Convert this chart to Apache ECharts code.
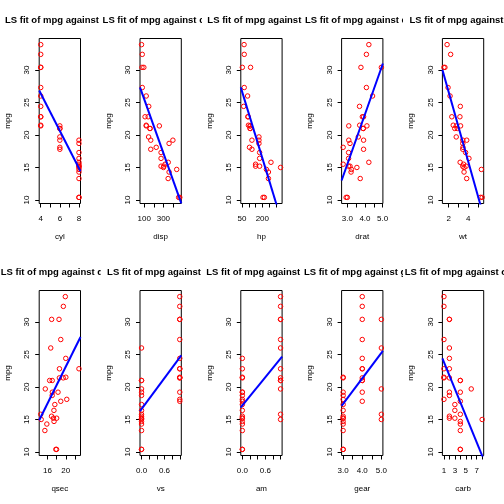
<!DOCTYPE html>
<html>
<head>
<meta charset="utf-8">
<script src="https://cdn.jsdelivr.net/npm/echarts@6/dist/echarts.min.js"></script>
<style>
body{margin:0;background:#fff}
#wrap{position:relative;width:504px;height:504px;overflow:hidden}
.panel{position:absolute}
</style>
</head>
<body>
<div id="wrap"></div>
<script>
// mtcars: mpg against each of the other columns
var mpg  = [21.0,21.0,22.8,21.4,18.7,18.1,14.3,24.4,22.8,19.2,17.8,16.4,17.3,15.2,10.4,10.4,14.7,32.4,30.4,33.9,21.5,15.5,15.2,13.3,19.2,27.3,26.0,30.4,15.8,19.7,15.0,21.4];
var cyl  = [6,6,4,6,8,6,8,4,4,6,6,8,8,8,8,8,8,4,4,4,4,8,8,8,8,4,4,4,8,6,8,4];
var disp = [160,160,108,258,360,225,360,146.7,140.8,167.6,167.6,275.8,275.8,275.8,472,460,440,78.7,75.7,71.1,120.1,318,304,350,400,79,120.3,95.1,351,145,301,121];
var hp   = [110,110,93,110,175,105,245,62,95,123,123,180,180,180,205,215,230,66,52,65,97,150,150,245,175,66,91,113,264,175,335,109];
var drat = [3.90,3.90,3.85,3.08,3.15,2.76,3.21,3.69,3.92,3.92,3.92,3.07,3.07,3.07,2.93,3.00,3.23,4.08,4.93,4.22,3.70,2.76,3.15,3.73,3.08,4.08,4.43,3.77,4.22,3.62,3.54,4.11];
var wt   = [2.620,2.875,2.320,3.215,3.440,3.460,3.570,3.190,3.150,3.440,3.440,4.070,3.730,3.780,5.250,5.424,5.345,2.200,1.615,1.835,2.465,3.520,3.435,3.840,3.845,1.935,2.140,1.513,3.170,2.770,3.570,2.780];
var qsec = [16.46,17.02,18.61,19.44,17.02,20.22,15.84,20.00,22.90,18.30,18.90,17.40,17.60,18.00,17.98,17.82,17.42,19.47,18.52,19.90,20.01,16.87,17.30,15.41,17.05,18.90,16.70,16.90,14.50,15.50,14.60,18.60];
var vs   = [0,0,1,1,0,1,0,1,1,1,1,0,0,0,0,0,0,1,1,1,1,0,0,0,0,1,0,1,0,0,0,1];
var am   = [1,1,1,0,0,0,0,0,0,0,0,0,0,0,0,0,0,1,1,1,0,0,0,0,0,1,1,1,1,1,1,1];
var gear = [4,4,4,3,3,3,3,4,4,4,4,3,3,3,3,3,3,4,4,4,3,3,3,3,3,4,5,5,5,5,5,4];
var carb = [4,4,1,1,2,1,4,2,2,4,4,3,3,3,4,4,4,1,2,1,1,2,2,4,2,1,2,2,4,6,8,2];

var varNames = ['cyl','disp','hp','drat','wt','qsec','vs','am','gear','carb'];
var columns  = [cyl, disp, hp, drat, wt, qsec, vs, am, gear, carb];

// lm(mpg ~ x) coefficients
var intercepts = [37.8846, 29.59985, 30.09886, -7.524618, 37.28513, -5.114038, 16.61667, 17.14737, 5.623333, 25.872334];
var slopes     = [-2.8758, -0.04121512, -0.06822828, 7.678233, -5.344472, 1.412125, 7.940476, 7.244939, 3.923333, -2.055719];

// tick marks and the labels that are printed
var xTicks = [
	[4,5,6,7,8],
	[100,200,300,400],
	[50,100,150,200,250,300],
	[3,3.5,4,4.5,5],
	[2,3,4,5],
	[16,18,20,22],
	[0,0.2,0.4,0.6,0.8,1],
	[0,0.2,0.4,0.6,0.8,1],
	[3,3.5,4,4.5,5],
	[1,2,3,4,5,6,7,8]
];
var xLabels = [
	['4','6','8'],
	['100','300'],
	['50','200'],
	['3.0','4.0','5.0'],
	['2','4'],
	['16','20'],
	['0.0','0.6'],
	['0.0','0.6'],
	['3.0','4.0','5.0'],
	['1','3','5','7']
];
var yLabels = ['10','15','20','25','30'];

var FONT = 'Liberation Sans, Arial, Helvetica, sans-serif';
var PW = 100.8, PH = 252;

function padRange(arr){
	var lo = Math.min.apply(null, arr), hi = Math.max.apply(null, arr);
	var d = (hi - lo) * 0.04;
	return [lo - d, hi + d];
}

var yr = padRange(mpg);
var yVals = yLabels.map(Number);
var wrap = document.getElementById('wrap');

for (var k = 0; k < varNames.length; k++) {
	var r = Math.floor(k / 5), c = k % 5;
	var left = Math.round(c * PW);
	var w = Math.round((c + 1) * PW) - left;
	var dx = c * PW - left;

	var div = document.createElement('div');
	div.className = 'panel';
	div.style.left = left + 'px';
	div.style.top = (r * PH) + 'px';
	div.style.width = w + 'px';
	div.style.height = PH + 'px';
	wrap.appendChild(div);

	var xs = columns[k];
	var xr = padRange(xs);
	var pts = xs.map(function(v, i){ return [v, mpg[i]]; });
	var fit = [
		[xr[0], intercepts[k] + slopes[k] * xr[0]],
		[xr[1], intercepts[k] + slopes[k] * xr[1]]
	];
	var labs = xLabels[k];
	var labVals = labs.map(Number);

	var chart = echarts.init(div);
	chart.setOption({
		animation: false,
		graphic: [{
			type: 'text',
			x: 59.85 + dx,
			y: 20,
			style: {
				text: 'LS fit of mpg against ' + varNames[k],
				align: 'center',
				verticalAlign: 'middle',
				fontSize: 9.5,
				fontWeight: 'bold',
				fontFamily: FONT,
				fill: '#000'
			}
		}],
		grid: {
			left: 39.2 + dx, top: 38.5, width: 41.3, height: 165,
			show: true, borderColor: '#000', borderWidth: 1,
			backgroundColor: 'transparent'
		},
		xAxis: {
			type: 'value',
			min: xr[0], max: xr[1],
			name: varNames[k],
			nameLocation: 'middle',
			nameGap: 29,
			nameTextStyle: {fontSize: 8, fontFamily: FONT, color: '#000'},
			axisLine: {show: false, onZero: false},
			splitLine: {show: false},
			axisTick: {show: true, length: 4, customValues: xTicks[k], lineStyle: {color: '#000'}},
			axisLabel: {
				customValues: labVals,
				margin: 11,
				fontSize: 8, fontFamily: FONT, color: '#000',
				formatter: (function(l, v){ return function(x){ var i = v.indexOf(x); return i < 0 ? '' : l[i]; }; })(labs, labVals)
			}
		},
		yAxis: {
			type: 'value',
			min: yr[0], max: yr[1],
			name: 'mpg',
			nameLocation: 'middle',
			nameGap: 27.5,
			nameTextStyle: {fontSize: 8, fontFamily: FONT, color: '#000'},
			axisLine: {show: false, onZero: false},
			splitLine: {show: false},
			axisTick: {show: true, length: 4, customValues: yVals, lineStyle: {color: '#000'}},
			axisLabel: {
				customValues: yVals,
				rotate: 90,
				margin: 8,
				fontSize: 8, fontFamily: FONT, color: '#000',
				formatter: function(x){ var i = yVals.indexOf(x); return i < 0 ? '' : yLabels[i]; }
			}
		},
		series: [{
			type: 'scatter',
			data: pts,
			symbol: 'circle',
			symbolSize: 4.5,
			itemStyle: {color: 'rgba(0,0,0,0)', borderColor: '#ff0000', borderWidth: 1, opacity: 1},
			silent: true
		}, {
			type: 'line',
			data: fit,
			showSymbol: false,
			clip: true,
			lineStyle: {color: '#0000ff', width: 2},
			silent: true
		}]
	});
}
</script>
</body>
</html>
